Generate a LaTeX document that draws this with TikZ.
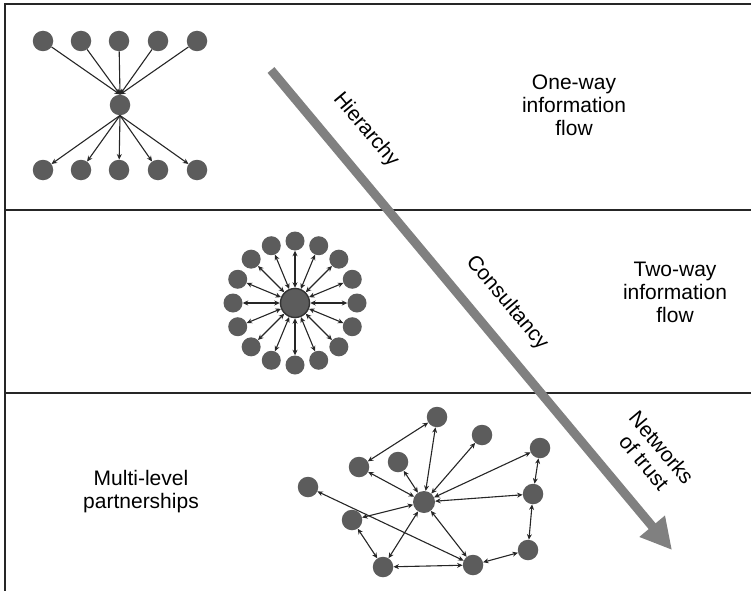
\documentclass[tikz,border=0pt]{standalone}
\usepackage{fontspec}
\setmainfont{Liberation Sans}
\usetikzlibrary{arrows.meta,calc}
\definecolor{dotgray}{gray}{0.36}
\definecolor{bandgray}{gray}{0.50}
\definecolor{rulegray}{gray}{0.15}
\begin{document}
\begin{tikzpicture}[x=1pt,y=-1pt,
  dot/.style={circle,fill=dotgray,draw=none,minimum size=20.5pt,inner sep=0pt},
  tip/.tip={Stealth[length=5.5pt,width=5pt]},
  link/.style={draw=black!85,line width=1.1pt,-tip},
  twoway/.style={draw=black!85,line width=1.1pt,tip-tip},
  txt/.style={font=\fontsize{21}{23}\selectfont,align=center,inner sep=0pt},
  rule/.style={draw=rulegray,line width=1.5pt}]
\useasboundingbox (0,0) rectangle (751,591);

% frame and band separators
\draw[rule] (751,4) -- (5,4) -- (5,591);
\draw[rule] (5,210) -- (751,210);
\draw[rule] (5,393) -- (751,393);

% --- one-way: hierarchy ---
\foreach \i/\x in {1/43,2/81,3/119,4/158,5/197}{
  \node[dot] (t\i) at (\x,41) {};
  \node[dot] (b\i) at (\x,170) {};
}
\node[dot] (hubA) at (120,105) {};
\foreach \i in {1,...,5}{
  \draw[link] (t\i) -- (hubA.north);
  \draw[link] (hubA.south) -- (b\i);
}

% --- two-way: consultancy star ---
\node[dot,minimum size=29pt,draw=black!80,line width=1.4pt] (hubB) at (295,303) {};
\foreach \k in {0,...,15}{
  \pgfmathsetmacro{\ang}{\k*22.5}
  \node[dot,minimum size=19pt] (r\k) at ({295+62*cos(\ang)},{303+62*sin(\ang)}) {};
  \draw[twoway] (hubB) -- (r\k);
}

% --- networks of trust ---
\node[dot] (nA) at (437,417) {};
\node[dot] (nB) at (482,435) {};
\node[dot] (nC) at (540,448) {};
\node[dot] (nD) at (359,467) {};
\node[dot] (nE) at (398,462) {};
\node[dot] (nF) at (308,487) {};
\node[dot,minimum size=22pt] (nG) at (424,502) {};
\node[dot] (nH) at (533,494) {};
\node[dot] (nI) at (352,520) {};
\node[dot] (nJ) at (528,550) {};
\node[dot] (nK) at (383,567) {};
\node[dot] (nL) at (473,565) {};
\foreach \p in {A,B,C,D,E,H,I,K,L}{\draw[twoway] (nG) -- (n\p);}
\draw[twoway] (nA) -- (nD);
\draw[twoway] (nF) -- (nL);
\draw[twoway] (nI) -- (nK);
\draw[twoway] (nK) -- (nL);
\draw[twoway] (nJ) -- (nL);
\draw[twoway] (nH) -- (nC);
\draw[twoway] (nJ) -- (nH);

% --- diagonal band arrow ---
\coordinate (bandStart) at (271,70);
\coordinate (bandEnd) at (672,550);
\draw[bandgray,line width=9pt,-{Triangle[length=31pt,width=31pt]}] (bandStart) -- (bandEnd);

% --- labels ---
\node[txt,rotate=-50] (lHier) at (366,130) {Hierarchy};
\node[txt,rotate=-50] (lCons) at (507,303) {Consultancy};
\node[txt,rotate=-50] (lNet) at (653,455) {Networks\\of trust};
\node[txt] (lOne) at (574,105) {One-way\\information\\flow};
\node[txt] (lTwo) at (675,292) {Two-way\\information\\flow};
\node[txt] (lMulti) at (141,492) {Multi-level\\partnerships};
\end{tikzpicture}
\end{document}
